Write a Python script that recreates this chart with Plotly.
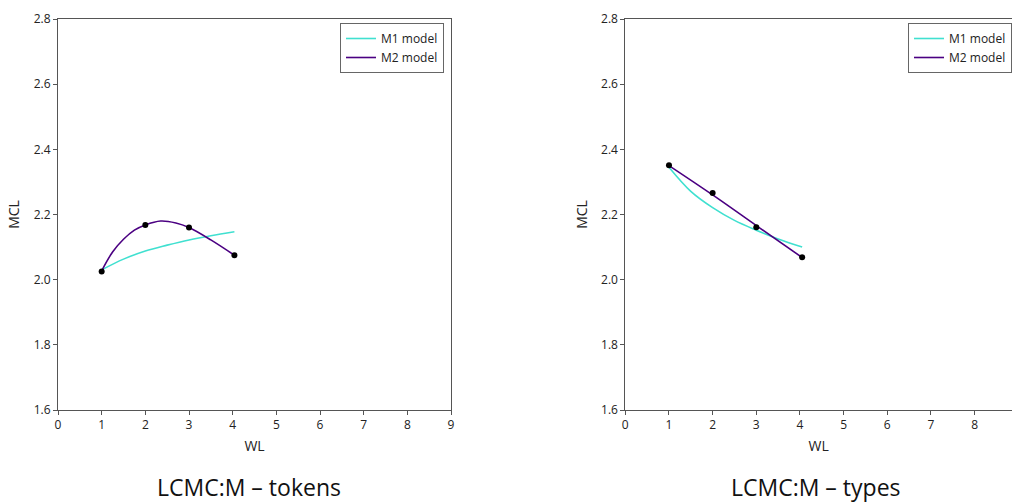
import plotly.graph_objects as go

# ---- data ----
# Left panel: LCMC:M - tokens
tok_obs_x = [1, 2, 3, 4.04]
tok_obs_y = [2.025, 2.168, 2.160, 2.075]
tok_m1_x = [1, 1.5, 2, 2.5, 3, 3.5, 4.04]
tok_m1_y = [2.030, 2.063, 2.088, 2.106, 2.122, 2.135, 2.147]
tok_m2_x = [1, 1.25, 1.5, 1.75, 2, 2.35, 2.7, 3, 3.5, 4.04]
tok_m2_y = [2.027, 2.085, 2.124, 2.152, 2.168, 2.180, 2.174, 2.160, 2.122, 2.075]

# Right panel: LCMC:M - types
typ_obs_x = [1, 2, 3, 4.05]
typ_obs_y = [2.351, 2.266, 2.161, 2.069]
typ_m1_x = [1, 1.5, 2, 2.5, 3, 3.5, 4.05]
typ_m1_y = [2.345, 2.271, 2.221, 2.182, 2.152, 2.125, 2.100]
typ_m2_x = [1, 2, 3, 4.05]
typ_m2_y = [2.350, 2.260, 2.166, 2.068]

x_ticks = [0, 1, 2, 3, 4, 5, 6, 7, 8, 9]
y_ticks = [1.6, 1.8, 2.0, 2.2, 2.4, 2.6, 2.8]
titles = ["LCMC:M – tokens", "LCMC:M – types"]

C_M1 = "#40E0D0"
C_M2 = "#4B0082"
AX = "#555555"
FONT = "Open Sans"

W, H = 1012, 503


def px(x):
    return x / W


def py(y):
    return 1 - y / H


fig = go.Figure()


def add_panel(xa, ya, m1x, m1y, m2x, m2y, ox, oy, legend):
    fig.add_trace(go.Scatter(x=m1x, y=m1y, mode="lines", name="M1 model",
                             line=dict(color=C_M1, width=1.6, shape="spline"),
                             xaxis=xa, yaxis=ya, legend=legend))
    fig.add_trace(go.Scatter(x=m2x, y=m2y, mode="lines", name="M2 model",
                             line=dict(color=C_M2, width=1.6, shape="spline"),
                             xaxis=xa, yaxis=ya, legend=legend))
    fig.add_trace(go.Scatter(x=ox, y=oy, mode="markers", showlegend=False,
                             marker=dict(color="black", size=6),
                             xaxis=xa, yaxis=ya))


add_panel("x", "y", tok_m1_x, tok_m1_y, tok_m2_x, tok_m2_y, tok_obs_x, tok_obs_y, "legend")
add_panel("x2", "y2", typ_m1_x, typ_m1_y, typ_m2_x, typ_m2_y, typ_obs_x, typ_obs_y, "legend2")

ydom = [py(410), py(19)]
unit = 393 / 9.0

axis_common = dict(showgrid=False, zeroline=False, showline=True, linecolor=AX, linewidth=1,
                   ticks="outside", ticklen=4, tickcolor=AX, automargin=False,
                   tickfont=dict(family=FONT, size=12, color="#222"))

fig.update_layout(
    width=W, height=H, autosize=False,
    margin=dict(l=0, r=0, t=0, b=0, autoexpand=False),
    paper_bgcolor="white", plot_bgcolor="white",
    font=dict(family=FONT, color="#222"),
    xaxis=dict(domain=[px(58), px(451)], range=[0, 9], tickvals=x_ticks, mirror=True,
               title=dict(text="WL", font=dict(size=14), standoff=8), **axis_common),
    yaxis=dict(domain=ydom, range=[1.6, 2.8], tickvals=y_ticks, tickformat=".1f", mirror=True,
               title=dict(text="MCL", font=dict(size=14), standoff=10), **axis_common),
    xaxis2=dict(domain=[px(625.3), 1], range=[0, (W - 625.3) / unit], tickvals=x_ticks[:-1],
                mirror=True, anchor="y2",
                title=dict(text="WL", font=dict(size=14), standoff=8), **axis_common),
    yaxis2=dict(domain=ydom, range=[1.6, 2.8], tickvals=y_ticks, tickformat=".1f", mirror=False,
                anchor="x2",
                title=dict(text="MCL", font=dict(size=14), standoff=10), **axis_common),
    legend=dict(x=px(444), xanchor="right", y=py(23), yanchor="top",
                bordercolor="#666", borderwidth=1, bgcolor="white",
                font=dict(family=FONT, size=12, color="#222")),
    legend2=dict(x=1.0, xanchor="right", y=py(23), yanchor="top",
                 bordercolor="#666", borderwidth=1, bgcolor="white",
                 font=dict(family=FONT, size=12, color="#222")),
    showlegend=True,
)

for txt, cx in zip(titles, [249, 815.5]):
    fig.add_annotation(text=txt, x=px(cx), y=py(487), xref="paper", yref="paper",
                       xanchor="center", yanchor="middle", showarrow=False,
                       font=dict(family=FONT, size=23, color="#111"))

# remove the default 8px body margin so the figure fills the 1012x503 window exactly
fig.write_html(
    "out.html",
    config={"displayModeBar": False},
    post_script="document.body.style.margin='0';"
                "document.body.style.overflow='hidden';"
                "document.documentElement.style.overflow='hidden';",
)
